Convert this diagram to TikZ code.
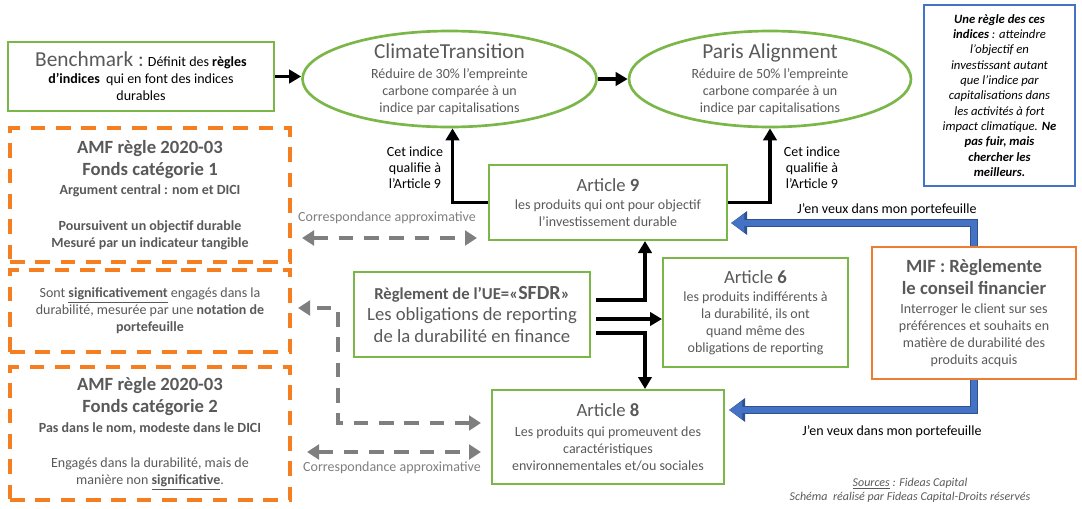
\documentclass[tikz,border=0pt]{standalone}
\usepackage{fontspec}
\setmainfont{Carlito}
\usetikzlibrary{arrows.meta,shapes.geometric,calc}

\definecolor{vert}{RGB}{122,182,72}
\definecolor{orangeamf}{RGB}{244,126,32}
\definecolor{orangemif}{RGB}{237,125,49}
\definecolor{bleu}{RGB}{68,114,196}
\definecolor{bleufonce}{RGB}{47,82,143}
\definecolor{gristexte}{RGB}{89,89,89}
\definecolor{grisfleche}{RGB}{127,127,127}

\newcommand{\corps}{\fontsize{10.5}{12.75}\selectfont}
\newcommand{\titre}{\fontsize{14}{16.5}\selectfont}

\tikzset{every picture/.style={line width=0.75pt}}
\tikzset{
  boitevert/.style={draw=vert, line width=1.5pt, inner sep=0pt, align=center, text=gristexte, font=\corps},
  boiteamf/.style={draw=orangeamf, line width=3pt, dash pattern=on 11pt off 8pt, inner sep=0pt, align=center, text=gristexte, font=\corps},
  bulle/.style={ellipse, draw=vert, line width=2pt, inner sep=0pt, minimum width=#1, minimum height=72pt},
  texteeng/.style={align=center, text=gristexte, font=\corps, inner sep=0pt},
  etiquette/.style={align=center, font=\fontsize{10.5}{12}\selectfont, inner sep=0pt},
  flechenoire/.style={draw=black, line width=2.5pt, -{Triangle[length=9pt,width=10pt]}},
  flechegrise/.style={draw=grisfleche, line width=3pt, dash pattern=on 11pt off 8pt, >={Triangle[length=9pt,width=11pt]}, <->},
  flechebleue/.style={draw=bleu, line width=4.5pt, -{Triangle[length=10pt,width=13pt]},
    preaction={draw=bleufonce, line width=6.5pt, -{Triangle[length=12pt,width=17pt]}}}
}

\begin{document}
\begin{tikzpicture}[x=0.75pt,y=0.75pt,yscale=-1,xscale=1]
\useasboundingbox (0,0) rectangle (1082,508);

% Benchmark
\node[boitevert, text=black, minimum width=199.5pt, minimum height=51.75pt] (bench) at (141,76.5) {{\color{gristexte}\fontsize{16}{18}\selectfont Benchmark :} Définit des \textbf{règles}\\\textbf{d’indices}\ \ qui en font des indices\\durables};

% Ellipses
\node[bulle=220.5pt] (climate) at (449.5,79) {};
\node[texteeng] (climatetxt) at (climate) {{\fontsize{16}{18}\selectfont ClimateTransition}\\[2pt]Réduire de 30\% l’empreinte\\carbone comparée à un\\indice par capitalisations};
\node[bulle=211.5pt] (paris) at (770,79) {};
\node[texteeng] (paristxt) at (paris) {{\fontsize{16}{18}\selectfont Paris Alignment}\\[2pt]Réduire de 50\% l’empreinte\\carbone comparée à un\\indice par capitalisations};

% Regle des indices
\node[draw=bleu, line width=1.5pt, minimum width=113.25pt, minimum height=135.75pt, inner sep=0pt, align=center, font=\itshape\fontsize{9.5}{11.5}\selectfont] (regle) at (999.5,95.5) {\textbf{Une règle des ces}\\\textbf{indices} : atteindre\\l’objectif en\\investissant autant\\que l’indice par\\capitalisations dans\\les activités à fort\\impact climatique. \textbf{Ne}\\\textbf{pas fuir, mais}\\\textbf{chercher les}\\\textbf{meilleurs.}};

% AMF
\node[boiteamf, minimum width=210pt, minimum height=100.5pt] (amf1) at (150,195) {\textbf{\titre AMF règle 2020-03}\\[3.75pt]\textbf{\titre Fonds catégorie 1}\\[2pt]\textbf{Argument central : nom et DICI}\\[14pt]\textbf{Poursuivent un objectif durable}\\\textbf{Mesuré par un indicateur tangible}};
\node[boiteamf, minimum width=210pt, minimum height=61.5pt] (sig) at (150,311) {Sont \underline{\textbf{significativement}} engagés dans la\\durabilité, mesurée par une \textbf{notation de}\\\textbf{portefeuille}};
\node[boiteamf, minimum width=210pt, minimum height=99.75pt] (amf2) at (150,433.5) {\textbf{\titre AMF règle 2020-03}\\[3.75pt]\textbf{\titre Fonds catégorie 2}\\[2pt]\textbf{Pas dans le nom, modeste dans le DICI}\\[14pt]Engagés dans la durabilité, mais de\\manière non \underline{\textbf{significative}}.};

% SFDR
\node[boitevert, minimum width=177pt, minimum height=63.75pt] (sfdr) at (472,314.5) {\textbf{\fontsize{12.5}{15}\selectfont Règlement de l’UE=«{\fontsize{15}{15}\selectfont SFDR}»}\\[3pt]{\fontsize{14}{16}\selectfont Les obligations de reporting}\\[3.5pt]{\fontsize{14}{16}\selectfont de la durabilité en finance}};

% Articles
\node[boitevert, minimum width=178.5pt, minimum height=56.25pt] (art9) at (608,202.5) {{\titre Article \textbf{9}}\\[1pt]les produits qui ont pour objectif\\l’investissement durable};
\node[boitevert, minimum width=138.75pt, minimum height=81.75pt] (art6) at (755.5,312.5) {{\titre Article \textbf{6}}\\[1pt]les produits indifférents à\\la durabilité, ils ont\\quand même des\\obligations de reporting};
\node[boitevert, minimum width=174pt, minimum height=70.5pt] (art8) at (608,437) {{\titre Article \textbf{8}}\\[2pt]Les produits qui promeuvent des\\caractéristiques\\environnementales et/ou sociales};

% MIF
\node[draw=orangemif, line width=1.5pt, minimum width=153pt, minimum height=99pt, inner sep=0pt, align=center, text=gristexte, font=\corps] (mif) at (974,313) {\textbf{\titre MIF : Règlemente}\\[3.75pt]\textbf{\titre le conseil financier}\\[1pt]Interroger le client sur ses\\préférences et souhaits en\\matière de durabilité des\\produits acquis};

% Fleches noires
\draw[flechenoire] (bench.east) -- (bench.east -| climate.west);
\draw[flechenoire] (climate.east) -- (paris.west);
\draw[flechenoire] (art9.west) -| ($(climate.south)+(3,0)$);
\draw[flechenoire] (art9.east) -| (paris.south);
\coordinate (fourche) at ($(sfdr.east)+(54,0)$);
\draw[flechenoire] ($(sfdr.east)+(5,-14.5)$) -| (fourche |- art9.south);
\draw[flechenoire] ($(sfdr.east)+(5,4.5)$) -- ($(art6.west)+(0,6.5)$);
\draw[flechenoire] ($(sfdr.east)+(5,18.5)$) -| (fourche |- art8.north);
\node[etiquette] (qualif1) at (415,168) {Cet indice\\qualifie à\\l’Article 9};
\node[etiquette] (qualif2) at (812,168) {Cet indice\\qualifie à\\l’Article 9};

% Correspondances
\draw[flechegrise] ($(amf1.east |- art9.south)+(10,-3)$) -- ($(art9.south west)+(-11,-3)$);
\draw[flechegrise] ($(art8.west)+(-10,-14)$) -| ($(sig.east)+(46,-3)$) -- ($(sig.east)+(6,-3)$);
\draw[flechegrise] ($(amf2.east)+(15,18.5)$) -- ($(art8.west)+(-10,15)$);
\node[etiquette, text=grisfleche] (corresp1) at (387,218) {Correspondance approximative};
\node[etiquette, text=grisfleche] (corresp2) at (392,468) {Correspondance approximative};

% MIF vers articles
\draw[flechebleue] (mif.north) |- ($(art9.east)+(3,20.5)$);
\draw[flechebleue] (mif.south) |- ($(art8.east)+(4,-27)$);
\node[etiquette] (veux1) at (887,210) {J’en veux dans mon portefeuille};
\node[etiquette] (veux2) at (892,432) {J’en veux dans mon portefeuille};

% Sources
\node[align=center, text=gristexte, inner sep=0pt, font=\itshape\fontsize{9}{10.5}\selectfont] (sources) at (910,490) {\underline{Sources} : Fideas Capital\\Schéma\ \ réalisé par Fideas Capital-Droits réservés};

\end{tikzpicture}
\end{document}
